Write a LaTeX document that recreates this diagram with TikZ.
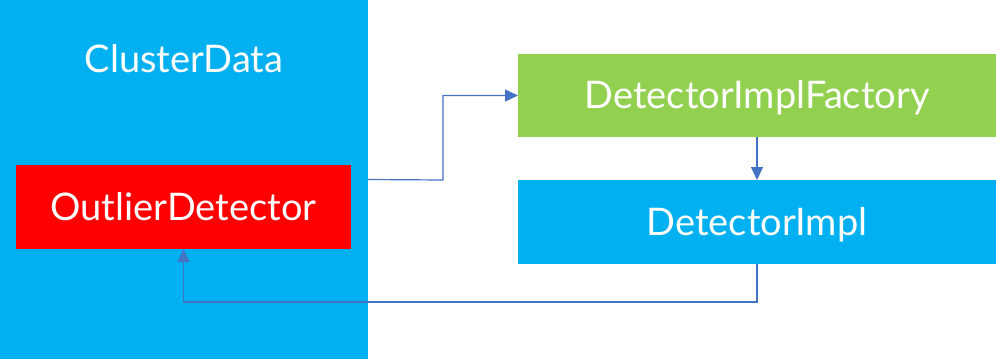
\documentclass[tikz,border=0pt]{standalone}
\usepackage{fontspec}
\setmainfont{Lato}
\usetikzlibrary{arrows.meta,calc}
\definecolor{cblue}{HTML}{00B0F0}
\definecolor{cred}{HTML}{FF0000}
\definecolor{cgreen}{HTML}{92D050}
\definecolor{cline}{HTML}{4472C4}
\begin{document}
\begin{tikzpicture}[x=1pt,y=-1pt,
  box/.style={draw=none,inner sep=0pt,outer sep=0pt,anchor=north west},
  lbl/.style={inner sep=0pt,text=white,font=\fontsize{38}{44}\selectfont},
  conn/.style={draw=cline,line width=1.2pt,-{Triangle[length=13pt,width=12pt]}}]
\useasboundingbox (0,0) rectangle (996,359);
\node[box,fill=cblue,minimum width=368pt,minimum height=359pt] (cd) at (0,0) {};
\node[lbl,anchor=base] (cdl) at (184,72) {ClusterData};
\node[box,fill=cred,minimum width=335pt,minimum height=84pt] (od) at (16,165) {};
\node[lbl,anchor=base] (odl) at (183.5,220) {OutlierDetector};
\node[box,fill=cgreen,minimum width=478pt,minimum height=83pt] (fac) at (518,54) {};
\node[lbl,anchor=base] (facl) at (757,108) {DetectorImplFactory};
\node[box,fill=cblue,minimum width=478pt,minimum height=84pt] (impl) at (518,180) {};
\node[lbl,anchor=base] (impll) at (757,235) {DetectorImpl};
\coordinate (k1) at (443,180);
\coordinate (k2) at (757,302);
\draw[conn] (cd.east) -- (k1) |- (fac.west);
\draw[conn] (fac.south) -- (impl.north);
\draw[conn] (impl.south) -- (k2) -| (od.south);
\end{tikzpicture}
\end{document}
